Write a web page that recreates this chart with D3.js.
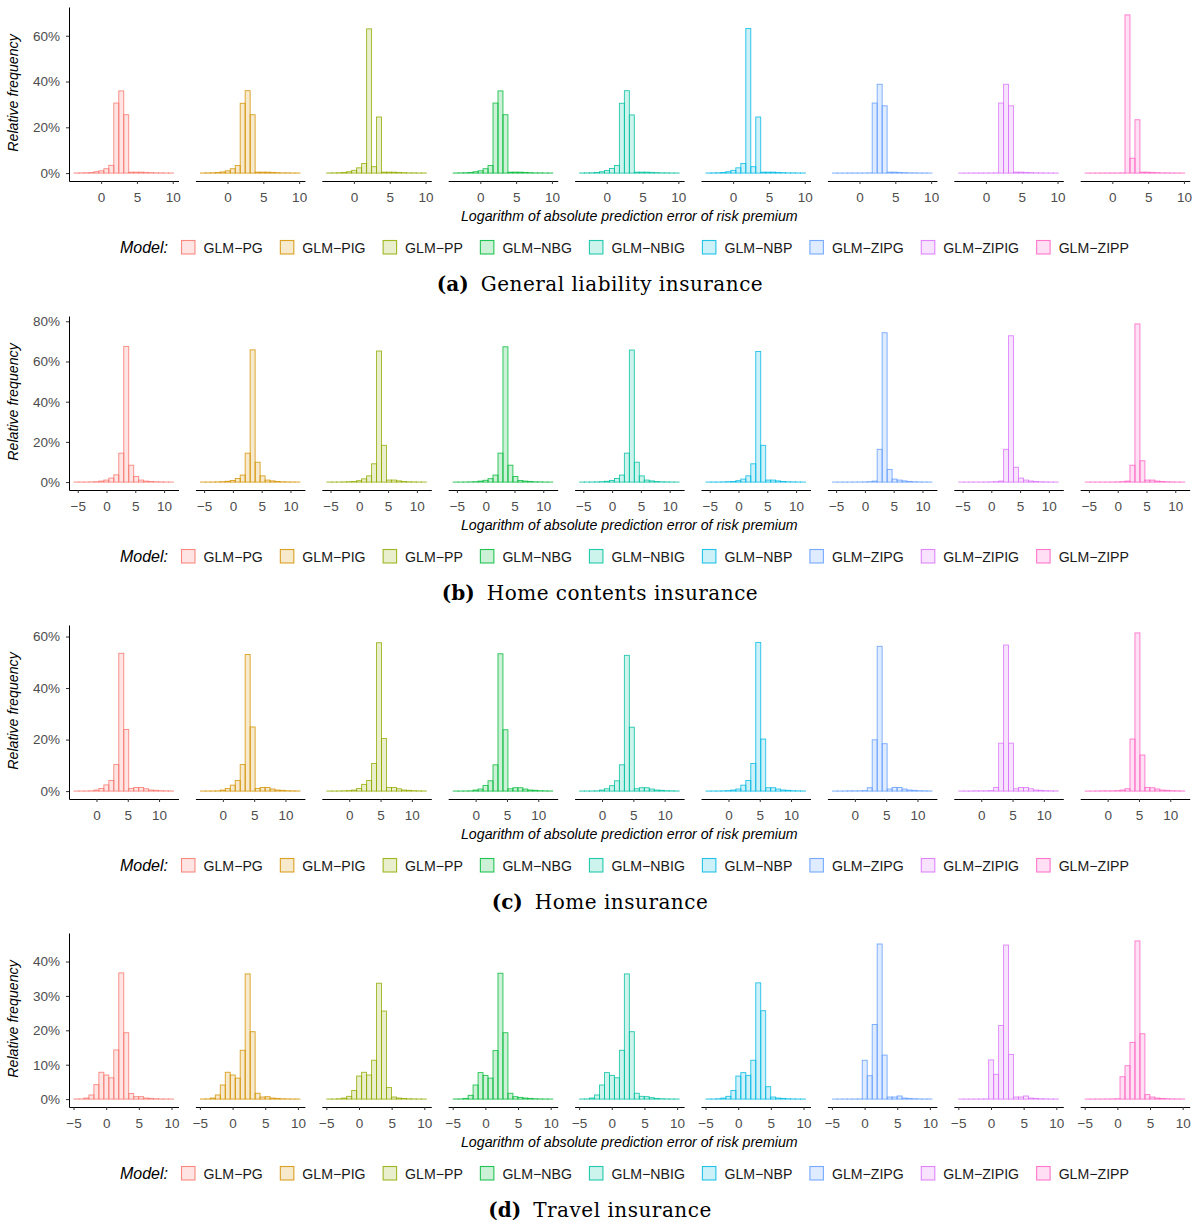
<!DOCTYPE html>
<html><head><meta charset="utf-8">
<script src="https://cdn.jsdelivr.net/npm/d3@7"></script>
<style>body{margin:0;background:#fff}</style>
</head><body>
<svg id="chart" width="1200" height="1222"></svg>
<script>
// ---------------- data ----------------
const models = ["GLM\u2212PG","GLM\u2212PIG","GLM\u2212PP","GLM\u2212NBG","GLM\u2212NBIG","GLM\u2212NBP","GLM\u2212ZIPG","GLM\u2212ZIPIG","GLM\u2212ZIPP"];
const modelColors = ["#F8766D","#D39200","#93AA00","#00BA38","#00C19F","#00B9E3","#619CFF","#DB72FB","#FF61C3"];
const panelLetters = ["a","b","c","d"];
const panelTitles = ["General liability insurance","Home contents insurance","Home insurance","Travel insurance"];
const xTitle = "Logarithm of absolute prediction error of risk premium";
const yTitle = "Relative frequency";
const legendTitle = "Model:";

// histogram bin ranges (log absolute error), 20 equal bins each
const binRangeA = [-3.79, 10.11];
const binRangeB = [-5.65, 11.64];
const binRangeC = [-3.59, 12.31];
const binRangeD = [-4.93, 10.31];
const binCount = 20;

const xTicksA = [0, 5, 10];
const xTicksB = [-5, 0, 5, 10];
const xTicksC = [0, 5, 10];
const xTicksD = [-5, 0, 5, 10];

const yTicksA = [0, 20, 40, 60];
const yTicksB = [0, 20, 40, 60, 80];
const yTicksC = [0, 20, 40, 60];
const yTicksD = [0, 10, 20, 30, 40];

// relative frequency (%) per bin, one row per model
const histA = [
 [0.05,0.1,0.15,0.25,0.6,1.0,1.9,3.4,30.6,35.9,25.5,0.4,0.4,0.4,0.3,0.2,0.1,0.1,0.05,0.05],
 [0.05,0.1,0.15,0.25,0.5,1.0,1.9,3.3,30.5,36.0,25.5,0.4,0.4,0.4,0.3,0.2,0.1,0.1,0.05,0.05],
 [0.05,0.1,0.15,0.3,0.6,1.2,2.3,4.2,63.0,2.8,24.5,0.4,0.4,0.4,0.3,0.2,0.1,0.1,0.05,0.05],
 [0.05,0.1,0.15,0.25,0.6,1.0,1.9,3.3,30.6,35.9,25.5,0.4,0.4,0.4,0.3,0.2,0.1,0.1,0.05,0.05],
 [0.05,0.1,0.15,0.25,0.6,1.1,2.0,3.3,30.5,36.0,25.4,0.4,0.4,0.4,0.3,0.2,0.1,0.1,0.05,0.05],
 [0.05,0.1,0.15,0.3,0.6,1.2,2.3,4.2,63.2,2.8,24.5,0.4,0.4,0.4,0.3,0.2,0.1,0.1,0.05,0.05],
 [0.02,0.02,0.03,0.05,0.05,0.05,0.05,0.1,30.6,38.8,29.4,0.4,0.4,0.3,0.2,0.1,0.1,0.05,0.05,0.02],
 [0.02,0.02,0.03,0.05,0.05,0.05,0.05,0.1,30.6,38.8,29.4,0.4,0.4,0.3,0.2,0.1,0.1,0.05,0.05,0.02],
 [0.02,0.02,0.03,0.05,0.05,0.05,0.05,0.1,69.1,6.5,23.3,0.4,0.4,0.3,0.2,0.1,0.1,0.05,0.05,0.02]
];
const histB = [
 [0.02,0.03,0.05,0.1,0.2,0.5,1.0,2.0,3.6,14.4,67.5,8.4,2.8,1.0,0.5,0.3,0.15,0.1,0.05,0.02],
 [0.02,0.03,0.05,0.1,0.2,0.4,0.8,1.8,3.5,14.4,65.8,9.9,3.1,1.0,0.6,0.3,0.15,0.1,0.05,0.02],
 [0.02,0.03,0.05,0.1,0.2,0.3,0.7,1.6,3.1,9.1,65.2,18.3,1.0,1.0,0.6,0.3,0.15,0.1,0.05,0.02],
 [0.02,0.03,0.05,0.1,0.2,0.5,0.9,1.7,3.5,14.4,67.3,8.4,2.8,0.8,0.5,0.3,0.15,0.1,0.05,0.02],
 [0.02,0.03,0.05,0.1,0.2,0.4,0.8,1.8,3.5,14.4,65.7,9.9,3.1,1.0,0.6,0.3,0.15,0.1,0.05,0.02],
 [0.02,0.03,0.05,0.1,0.2,0.3,0.7,1.5,3.1,9.1,65.0,18.3,1.0,1.0,0.6,0.3,0.15,0.1,0.05,0.02],
 [0.01,0.01,0.02,0.02,0.03,0.05,0.1,0.2,0.5,16.3,74.3,6.3,1.5,1.0,0.6,0.3,0.15,0.1,0.05,0.02],
 [0.01,0.01,0.02,0.02,0.03,0.05,0.1,0.2,0.5,16.3,72.8,7.4,2.0,1.0,0.5,0.3,0.15,0.1,0.05,0.02],
 [0.01,0.01,0.02,0.02,0.03,0.05,0.1,0.2,0.5,8.4,78.7,10.6,1.0,1.0,0.5,0.3,0.15,0.1,0.05,0.02]
];
const histC = [
 [0.02,0.03,0.05,0.1,0.4,1.0,2.4,4.1,10.3,53.5,23.9,1.0,1.4,1.4,0.9,0.4,0.3,0.15,0.1,0.05],
 [0.02,0.03,0.05,0.1,0.4,1.0,2.3,4.1,10.3,53.0,24.9,1.0,1.4,1.4,0.8,0.4,0.3,0.15,0.1,0.05],
 [0.02,0.03,0.05,0.1,0.2,0.4,1.0,2.6,4.1,10.7,57.6,20.4,1.4,1.4,0.9,0.4,0.3,0.15,0.1,0.05],
 [0.02,0.03,0.05,0.1,0.4,0.8,2.2,4.0,10.2,53.3,23.8,0.9,1.3,1.3,0.8,0.4,0.3,0.15,0.1,0.05],
 [0.02,0.03,0.05,0.1,0.4,0.9,2.1,4.0,10.2,52.7,24.8,0.9,1.3,1.3,0.8,0.4,0.3,0.15,0.1,0.05],
 [0.02,0.03,0.05,0.1,0.2,0.4,0.8,2.3,4.1,10.7,57.7,20.2,1.3,1.3,0.8,0.4,0.3,0.15,0.1,0.05],
 [0.02,0.03,0.05,0.1,0.1,0.1,0.2,1.3,19.9,56.2,18.4,0.8,1.4,1.4,0.8,0.4,0.3,0.15,0.1,0.05],
 [0.02,0.03,0.05,0.1,0.1,0.1,0.2,1.4,18.6,56.7,18.6,0.9,1.4,1.4,0.9,0.4,0.3,0.15,0.1,0.05],
 [0.02,0.03,0.05,0.1,0.1,0.1,0.2,0.4,0.9,20.2,61.4,14.0,1.4,1.3,0.8,0.4,0.3,0.15,0.1,0.05]
];
const histD = [
 [0.03,0.05,0.3,1.2,4.2,7.8,7.0,6.2,14.3,36.7,19.3,1.6,0.7,0.7,0.3,0.2,0.1,0.05,0.03,0.02],
 [0.03,0.05,0.3,1.2,4.1,7.8,7.0,6.1,14.2,36.4,19.6,1.7,0.6,0.7,0.3,0.2,0.1,0.05,0.03,0.02],
 [0.02,0.03,0.1,0.3,0.8,2.5,6.7,7.8,7.0,11.3,33.7,25.6,3.4,0.6,0.3,0.2,0.1,0.05,0.03,0.02],
 [0.03,0.05,0.2,1.1,4.1,7.7,6.9,6.1,14.1,36.6,19.3,1.7,0.7,0.5,0.3,0.2,0.1,0.05,0.03,0.02],
 [0.03,0.05,0.3,1.2,4.1,7.7,6.9,6.2,14.2,36.4,19.6,1.7,0.8,0.7,0.4,0.2,0.1,0.05,0.03,0.02],
 [0.02,0.03,0.1,0.3,0.8,2.5,6.7,7.7,6.9,11.3,33.8,25.7,3.6,0.6,0.3,0.2,0.1,0.05,0.03,0.02],
 [0.01,0.01,0.02,0.02,0.03,0.05,11.3,6.8,21.7,45.1,12.8,0.6,0.6,0.9,0.3,0.2,0.1,0.05,0.03,0.02],
 [0.01,0.01,0.02,0.02,0.03,0.05,11.4,7.2,21.4,44.8,13.0,0.6,0.6,0.9,0.3,0.2,0.1,0.05,0.03,0.02],
 [0.01,0.01,0.02,0.02,0.03,0.05,0.1,6.5,9.7,16.5,46.0,19.0,1.3,0.6,0.3,0.2,0.1,0.05,0.03,0.02]
];

// ---------------- layout ----------------
const panels = [
  {range: binRangeA, xt: xTicksA, yt: yTicksA, hist: histA},
  {range: binRangeB, xt: xTicksB, yt: yTicksB, hist: histB},
  {range: binRangeC, xt: xTicksC, yt: yTicksC, hist: histC},
  {range: binRangeD, xt: xTicksD, yt: yTicksD, hist: histD}
];
const panelTops = [7, 316, 625, 933];
const H = 174, facetLeft = 69, facetPitch = 126.4, W = 109.5;
const SANS = "'Liberation Sans', Arial, Helvetica, sans-serif";
const SERIF = "'DejaVu Serif', serif";

const svg = d3.select("#chart");
const fmtX = d => d < 0 ? "\u2212" + (-d) : String(d);

panels.forEach((p, pi) => {
  const T = panelTops[pi];
  const [lo, hi] = p.range;
  const span = hi - lo;
  const x = d3.scaleLinear().domain([lo - 0.05 * span, hi + 0.05 * span]).range([0, W]);
  const ymax = d3.max(p.hist.flat());
  const y = d3.scaleLinear().domain([-0.05 * ymax, 1.05 * ymax]).range([T + H, T]);
  const edges = d3.range(binCount + 1).map(k => lo + k * span / binCount);

  p.hist.forEach((vals, mi) => {
    const g = svg.append("g").attr("transform", `translate(${facetLeft + mi * facetPitch},0)`);
    g.selectAll("rect").data(vals).join("rect")
      .attr("x", (d, i) => x(edges[i]))
      .attr("width", (d, i) => x(edges[i + 1]) - x(edges[i]))
      .attr("y", d => y(d))
      .attr("height", d => y(0) - y(d))
      .attr("fill", modelColors[mi]).attr("fill-opacity", 0.2)
      .attr("stroke", modelColors[mi]).attr("stroke-opacity", 0.85)
      .attr("stroke-width", 0.9);

    const ax = g.append("g").attr("transform", `translate(0,${T + H})`)
      .call(d3.axisBottom(x).tickValues(p.xt).tickFormat(fmtX).tickSize(3).tickSizeOuter(0).tickPadding(8));
    ax.select(".domain").attr("stroke", "#000").attr("stroke-width", 1);
    ax.selectAll(".tick line").attr("stroke", "#333");
    ax.selectAll("text").attr("fill", "#4D4D4D").style("font-family", SANS).style("font-size", "13.5px");

    if (mi === 0) {
      const ay = g.append("g")
        .call(d3.axisLeft(y).tickValues(p.yt).tickFormat(d => d + "%").tickSize(3).tickSizeOuter(0).tickPadding(6));
      ay.select(".domain").attr("stroke", "#000").attr("stroke-width", 1);
      ay.selectAll(".tick line").attr("stroke", "#333");
      ay.selectAll("text").attr("fill", "#4D4D4D").style("font-family", SANS).style("font-size", "13.5px");
    }
  });

  // y title
  svg.append("text").attr("transform", `translate(18,${T + 86}) rotate(-90)`)
    .attr("text-anchor", "middle").style("font-family", SANS).style("font-size", "14.2px")
    .style("font-style", "italic").attr("fill", "#000").text(yTitle);
  // x title
  svg.append("text").attr("x", facetLeft + (8 * facetPitch + W) / 2).attr("y", T + 213.5)
    .attr("text-anchor", "middle").style("font-family", SANS).style("font-size", "14.2px")
    .style("font-style", "italic").attr("fill", "#000").text(xTitle);

  // legend
  const lg = svg.append("g");
  lg.append("text").attr("x", 168).attr("y", T + 246).attr("text-anchor", "end")
    .style("font-family", SANS).style("font-size", "16px").style("font-style", "italic").text(legendTitle);
  let cx = 181.5;
  models.forEach((m, mi) => {
    lg.append("rect").attr("x", cx).attr("y", T + 233.5).attr("width", 13.5).attr("height", 13.5)
      .attr("fill", modelColors[mi]).attr("fill-opacity", 0.2)
      .attr("stroke", modelColors[mi]).attr("stroke-opacity", 0.85).attr("stroke-width", 1.1);
    const t = lg.append("text").attr("x", cx + 22).attr("y", T + 245.5)
      .style("font-family", SANS).style("font-size", "14.15px").attr("fill", "#1a1a1a").text(m);
    cx += 22 + t.node().getComputedTextLength() + 17.5;
  });

  // caption
  const cap = svg.append("text").attr("x", 600).attr("y", T + 284).attr("text-anchor", "middle")
    .style("font-family", SERIF).style("font-size", "20px").attr("fill", "#000");
  cap.append("tspan").style("font-weight", "bold").text("(" + panelLetters[pi] + ")");
  cap.append("tspan").attr("dx", 12).style("letter-spacing", "0.5px").text(panelTitles[pi]);
});
</script>
</body></html>
